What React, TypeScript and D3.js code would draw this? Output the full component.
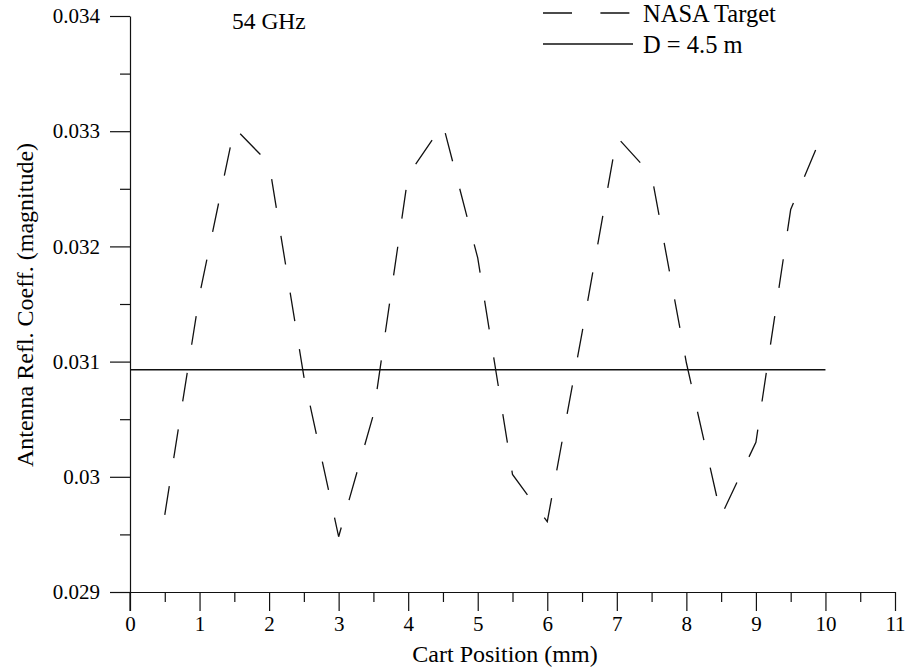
import React, { useRef, useEffect } from "react";
import * as d3 from "d3";

// NASA Target curve (cart position mm, reflection coefficient magnitude)
const targetX = [0.5, 1.0, 1.5, 2.0, 2.5, 3.0, 3.5, 4.0, 4.5, 5.0, 5.5, 6.0, 6.5, 7.0, 7.5, 8.0, 8.5, 9.0, 9.5, 10.0];
const targetY = [0.02967, 0.03158, 0.03303, 0.03272, 0.03087, 0.02948, 0.03054, 0.03262, 0.03306, 0.0319, 0.03002, 0.02961, 0.03125, 0.03295, 0.03262, 0.03099, 0.02966, 0.0303, 0.03232, 0.03304];

// D = 4.5 m reference level
const dishX = [0, 10];
const dishY = [0.03093, 0.03093];

const xTicks = [0, 1, 2, 3, 4, 5, 6, 7, 8, 9, 10, 11];
const xMinorTicks = [0.5, 1.5, 2.5, 3.5, 4.5, 5.5, 6.5, 7.5, 8.5, 9.5, 10.5];
const yTicks = [0.029, 0.03, 0.031, 0.032, 0.033, 0.034];
const yMinorTicks = [0.0295, 0.0305, 0.0315, 0.0325, 0.0335];

const FONT = "'Liberation Serif', 'Times New Roman', serif";
const DASH = "29,28.4";

export default function App() {
    const svgRef = useRef<SVGSVGElement>(null);

    useEffect(() => {
        if (!svgRef.current) return;
        const svg = d3.select(svgRef.current);
        svg.selectAll("*").remove();

        const width = 906;
        const height = 672;
        svg.attr("width", width).attr("height", height);

        // Scales
        const x = d3.scaleLinear().domain([0, 11]).range([130, 895]);
        const y = d3.scaleLinear().domain([0.029, 0.034]).range([592, 16]);

        const styleAxis = (g: any) => {
            g.select(".domain").attr("stroke", "#111").attr("stroke-width", 1.2);
            g.selectAll(".tick line").attr("stroke", "#111").attr("stroke-width", 1.2);
            g.selectAll(".tick text")
                .attr("fill", "#000")
                .attr("font-family", FONT)
                .attr("font-size", "21px");
        };

        // X axis
        svg.append("g")
            .attr("transform", `translate(0,${y(0.029)})`)
            .call(d3.axisBottom(x).tickValues(xTicks).tickSize(19).tickSizeOuter(0).tickPadding(5).tickFormat(d => `${d}`))
            .call(styleAxis);

        svg.append("g")
            .attr("transform", `translate(0,${y(0.029)})`)
            .call(d3.axisBottom(x).tickValues(xMinorTicks).tickSize(10).tickFormat(() => ""))
            .call(g => g.select(".domain").remove())
            .call(g => g.selectAll(".tick line").attr("stroke", "#111").attr("stroke-width", 1.2));

        // Y axis
        svg.append("g")
            .attr("transform", `translate(${x(0)},0)`)
            .call(d3.axisLeft(y).tickValues(yTicks).tickSize(20).tickSizeOuter(0).tickPadding(10).tickFormat(d => `${+(+d).toFixed(4)}`))
            .call(styleAxis);

        svg.append("g")
            .attr("transform", `translate(${x(0)},0)`)
            .call(d3.axisLeft(y).tickValues(yMinorTicks).tickSize(10).tickFormat(() => ""))
            .call(g => g.select(".domain").remove())
            .call(g => g.selectAll(".tick line").attr("stroke", "#111").attr("stroke-width", 1.2));

        // extend y axis line down to the x-axis tick length
        svg.append("line")
            .attr("x1", x(0)).attr("x2", x(0))
            .attr("y1", y(0.029)).attr("y2", y(0.029) + 19)
            .attr("stroke", "#111").attr("stroke-width", 1.2);

        // Axis titles
        svg.append("text")
            .attr("x", 505)
            .attr("y", 662)
            .attr("text-anchor", "middle")
            .attr("font-family", FONT)
            .attr("font-size", "24px")
            .text("Cart Position (mm)");

        svg.append("text")
            .attr("transform", "translate(33,305) rotate(-90)")
            .attr("text-anchor", "middle")
            .attr("font-family", FONT)
            .attr("font-size", "24px")
            .text("Antenna Refl. Coeff. (magnitude)");

        svg.append("text")
            .attr("x", 232)
            .attr("y", 29)
            .attr("font-family", FONT)
            .attr("font-size", "23.5px")
            .text("54 GHz");

        // Lines
        const line = d3.line<[number, number]>()
            .x(d => x(d[0]))
            .y(d => y(d[1]));

        const dishData = dishX.map((v, i) => [v, dishY[i]] as [number, number]);
        svg.append("path")
            .datum(dishData)
            .attr("fill", "none")
            .attr("stroke", "#111")
            .attr("stroke-width", 1.5)
            .attr("d", line);

        const targetData = targetX.map((v, i) => [v, targetY[i]] as [number, number]);
        svg.append("path")
            .datum(targetData)
            .attr("fill", "none")
            .attr("stroke", "#111")
            .attr("stroke-width", 1.3)
            .attr("stroke-dasharray", DASH)
            .attr("d", line);

        // Legend
        const legendItems = [
            { label: "NASA Target", dash: DASH, ly: 13, ty: 22 },
            { label: "D = 4.5 m", dash: null, ly: 44, ty: 53 },
        ];
        legendItems.forEach(item => {
            const ln = svg.append("line")
                .attr("x1", 543).attr("x2", 633)
                .attr("y1", item.ly).attr("y2", item.ly)
                .attr("stroke", "#111")
                .attr("stroke-width", 1.4);
            if (item.dash) ln.attr("stroke-dasharray", item.dash);
            svg.append("text")
                .attr("x", 643)
                .attr("y", item.ty)
                .attr("font-family", FONT)
                .attr("font-size", "24.5px")
                .text(item.label);
        });
    }, []);

    return (
        <div style={{ position: "absolute", left: 0, top: 0, background: "#fff" }}>
            <svg ref={svgRef} style={{ display: "block" }} />
        </div>
    );
}
